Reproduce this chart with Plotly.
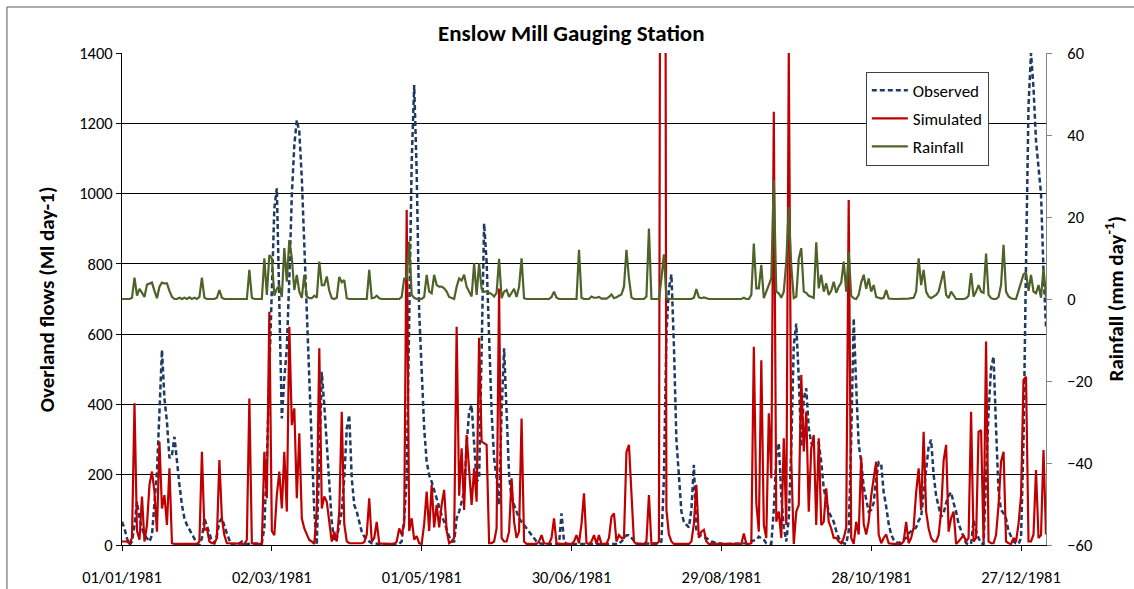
import pandas as pd
import plotly.graph_objects as go

# Daily series, 01/01/1981 onwards (one value per day)
observed = [
    66, 47, 19, 0, 10, 57, 123, 76, 47, 28,
    19, 10, 28, 114, 209, 379, 555, 417, 351, 247,
    256, 308, 228, 171, 114, 76, 57, 43, 33, 19,
    5, 0, 19, 76, 57, 33, 10, 5, 28, 66,
    76, 52, 33, 14, 0, 3, 3, 5, 10, 5,
    3, 3, 3, 3, 3, 3, 5, 50, 237, 493,
    759, 958, 1015, 664, 360, 474, 560, 759, 996, 1138,
    1209, 1176, 1043, 854, 664, 474, 285, 95, 0, 237,
    493, 398, 285, 171, 66, 10, 19, 57, 95, 190,
    332, 370, 190, 114, 95, 66, 38, 24, 19, 10,
    5, 5, 3, 3, 3, 3, 3, 3, 3, 3,
    3, 3, 10, 76, 190, 664, 1091, 1309, 1062, 664,
    493, 332, 237, 199, 180, 157, 133, 104, 85, 66,
    43, 24, 10, 10, 76, 95, 123, 152, 285, 379,
    398, 285, 180, 190, 569, 915, 806, 569, 379, 247,
    190, 114, 379, 560, 379, 199, 133, 114, 95, 76,
    66, 57, 47, 38, 28, 19, 10, 5, 3, 3,
    3, 3, 3, 3, 3, 3, 90, 10, 3, 3,
    3, 3, 3, 3, 3, 3, 3, 3, 3, 3,
    3, 3, 3, 3, 3, 3, 3, 3, 3, 3,
    10, 20, 28, 28, 20, 10, 5, 3, 3, 3,
    3, 3, 3, 3, 3, 5, 10, 190, 600, 730,
    770, 569, 300, 180, 95, 66, 57, 50, 100, 228,
    40, 30, 25, 20, 20, 15, 10, 8, 5, 5,
    3, 3, 3, 3, 3, 3, 3, 3, 3, 3,
    5, 8, 10, 12, 15, 24, 20, 15, 5, 3,
    3, 100, 250, 290, 140, 50, 10, 76, 280, 569,
    630, 474, 280, 417, 446, 332, 290, 285, 290, 290,
    237, 161, 128, 95, 80, 66, 40, 20, 10, 5,
    3, 40, 300, 645, 450, 285, 237, 165, 130, 95,
    100, 120, 190, 235, 230, 150, 110, 60, 30, 15,
    8, 5, 10, 15, 20, 33, 40, 45, 50, 70,
    80, 150, 220, 280, 300, 200, 140, 110, 80, 90,
    120, 140, 150, 120, 95, 60, 40, 20, 5, 3,
    3, 70, 40, 20, 5, 3, 190, 379, 503, 536,
    332, 150, 100, 90, 75, 40, 25, 10, 5, 3,
    20, 300, 800, 1250, 1400, 1300, 1150, 1062, 1000, 780,
    620,
]

simulated = [
    10, 10, 10, 5, 20, 403, 40, 15, 138, 10,
    57, 171, 209, 152, 38, 294, 104, 142, 57, 218,
    5, 3, 3, 3, 3, 3, 3, 3, 3, 3,
    3, 10, 265, 43, 47, 10, 5, 5, 20, 242,
    76, 28, 5, 5, 5, 3, 3, 3, 3, 3,
    15, 417, 5, 3, 3, 3, 3, 265, 133, 664,
    40, 28, 142, 209, 104, 265, 95, 621, 341, 389,
    133, 318, 76, 47, 28, 14, 10, 3, 100, 560,
    104, 138, 123, 57, 10, 38, 10, 95, 379, 60,
    10, 5, 5, 5, 5, 5, 5, 8, 30, 133,
    10, 20, 66, 5, 3, 3, 3, 3, 3, 3,
    10, 47, 30, 60, 953, 40, 76, 15, 25, 5,
    3, 60, 152, 40, 171, 50, 114, 50, 114, 157,
    40, 5, 10, 20, 621, 140, 275, 100, 313, 200,
    114, 218, 123, 590, 294, 290, 285, 5, 5, 10,
    47, 730, 20, 10, 10, 38, 190, 66, 20, 38,
    360, 10, 3, 3, 3, 3, 3, 10, 28, 5,
    3, 3, 20, 76, 5, 3, 3, 3, 3, 3,
    3, 10, 28, 5, 60, 147, 5, 3, 10, 28,
    3, 28, 3, 3, 3, 20, 80, 90, 10, 28,
    20, 20, 265, 285, 130, 10, 3, 3, 3, 3,
    10, 142, 3, 3, 3, 10, 3500, 4200, 100, 30,
    10, 3, 3, 3, 3, 3, 5, 3, 10, 60,
    171, 20, 38, 43, 10, 3, 3, 3, 3, 3,
    3, 3, 3, 3, 3, 3, 3, 3, 3, 33,
    3, 3, 5, 564, 120, 38, 526, 57, 20, 375,
    190, 1233, 66, 95, 20, 304, 57, 1400, 240, 3,
    95, 114, 484, 266, 380, 95, 275, 313, 57, 304,
    57, 66, 161, 66, 47, 20, 20, 10, 5, 20,
    50, 982, 20, 3, 66, 30, 251, 60, 30, 66,
    140, 190, 237, 30, 5, 20, 30, 5, 3, 3,
    3, 3, 3, 10, 66, 5, 20, 50, 150, 218,
    100, 322, 95, 47, 20, 10, 10, 28, 95, 240,
    285, 38, 76, 95, 3, 10, 20, 28, 10, 20,
    379, 10, 20, 322, 327, 10, 579, 10, 5, 5,
    28, 114, 237, 265, 10, 5, 3, 20, 10, 60,
    140, 470, 479, 10, 10, 30, 213, 20, 28, 270,
    30,
]

rainfall = [
    0, 0, 0, 0, 0.3, 5.2, 0.8, 2.5, 1.5, 0.5,
    3.5, 3.8, 4.0, 2.0, 0.2, 3.0, 4.0, 3.8, 3.8, 2.0,
    0.5, 0, 0, 0.3, 0, 0.3, 0, 0.4, 0, 0.3,
    0, 0.5, 5.2, 0.3, 0, 0, 0, 0, 0.3, 2.2,
    0.3, 0, 0, 0, 0, 0, 0, 0, 0, 0,
    0, 7.1, 0.3, 0, 0, 0, 0, 9.9, 1.0, 10.7,
    9.9, 0.8, 2.5, 3.3, 0.5, 12.4, 4.2, 14.4, 10.0, 2.2,
    5.9, 1.8, 0.3, 5.9, 0.6, 0.2, 0.2, 0.8, 0.3, 9.1,
    3.4, 3.4, 5.5, 2.0, 0.2, 0, 0.3, 5.4, 4.1, 4.6,
    0.2, 0, 0, 0, 0, 0, 0, 0, 0, 7.1,
    0.2, 0.3, 0.8, 0.2, 0, 0, 0, 0, 0, 0,
    0, 0, 0.5, 5.0, 5.0, 14.0, 1.0, 0.3, 0, 0,
    0, 0.5, 5.9, 1.8, 1.4, 5.9, 3.4, 3.0, 3.0, 2.6,
    1.8, 0.5, 0.2, 0, 3.0, 5.0, 4.5, 5.9, 3.0, 1.8,
    0.6, 8.7, 1.0, 8.7, 2.5, 1.8, 1.8, 1.5, 1.2, 0.6,
    1.5, 9.8, 0.2, 1.8, 2.2, 0.5, 1.5, 2.5, 0.5, 3.0,
    9.9, 0.2, 0, 0, 0, 0, 0, 0, 0, 0,
    0, 0, 0.5, 1.8, 0.3, 0, 0, 0, 0, 0,
    0, 0, 0, 12.0, 0.3, 0, 0, 0, 0.6, 0.3,
    0.3, 0.5, 0.1, 0.1, 0.1, 0.5, 1.1, 0.2, 0.4, 0.8,
    1.1, 3.0, 12.0, 5.0, 0.4, 0, 0, 0, 0, 0,
    0.6, 17.2, 0, 0, 0, 0, 5.0, 10.9, 0.3, 0,
    0, 0, 0, 0, 0, 0, 0, 0, 0, 0.3,
    2.4, 0.4, 0.2, 0.4, 0.2, 0, 0, 0, 0, 0,
    0, 0, 0, 0, 0, 0, 0, 0, 0, 0.3,
    0, 0, 1.0, 13.5, 2.6, 2.6, 8.3, 0.2, 1.8, 3.8,
    5.0, 29.0, 1.8, 1.4, 0.3, 1.8, 9.1, 22.5, 8.0, 0.2,
    0.6, 9.9, 12.4, 1.8, 1.5, 0.8, 0.5, 0.3, 13.8, 2.6,
    5.9, 1.8, 3.8, 1.0, 2.0, 4.2, 1.5, 3.0, 4.0, 9.1,
    1.8, 11.5, 0.8, 0.2, 0, 1.0, 4.0, 5.9, 2.5, 5.0,
    1.8, 3.4, 0.5, 0.2, 0.1, 0.3, 2.2, 0.1, 0, 0,
    0, 0, 0, 0, 0, 0.1, 0.2, 0.3, 1.8, 9.9,
    3.4, 7.1, 1.8, 0.6, 0.2, 0.5, 1.0, 1.8, 4.0, 6.8,
    1.0, 0.2, 1.8, 1.0, 0, 0, 0, 0, 0.2, 0.8,
    6.3, 0.6, 1.8, 3.4, 1.8, 1.5, 11.1, 1.0, 0.2, 0,
    0, 0.5, 3.4, 13.2, 1.8, 0.6, 0.2, 0, 0, 2.2,
    4.0, 6.0, 6.5, 2.0, 5.9, 1.8, 1.4, 3.4, 0.3, 7.5,
    0.5,
]

dates = pd.date_range("1981-01-01", periods=len(observed), freq="D")

FONT = "Carlito, Lato, Calibri, sans-serif"

fig = go.Figure()
fig.add_trace(go.Scatter(
    x=dates, y=observed, name="Observed", mode="lines", legendgroup="a",
    line=dict(color="#1F3A63", width=2.5, dash="5px,3px"),
))
fig.add_trace(go.Scatter(
    x=dates, y=simulated, name="Simulated", mode="lines", legendgroup="b",
    line=dict(color="#C00000", width=2.2),
))
fig.add_trace(go.Scatter(
    x=dates, y=rainfall, name="Rainfall", mode="lines", legendgroup="c",
    line=dict(color="#4F6228", width=2.2), yaxis="y2",
))

fig.update_layout(
    width=1134, height=589,
    margin=dict(l=122, r=88, t=53, b=44, autoexpand=False),
    paper_bgcolor="white", plot_bgcolor="white",
    font=dict(family=FONT, size=16.5, color="#000000"),
    showlegend=True,
    legend=dict(
        x=0.805, y=0.962, xanchor="left", yanchor="top",
        bgcolor="white", bordercolor="#404040", borderwidth=1,
        font=dict(size=17), traceorder="grouped", tracegroupgap=3,
        itemwidth=36,
    ),
    xaxis=dict(
        type="date", range=[dates[0], dates[-1]],
        tick0="1981-01-01", dtick=60 * 86400000, tickformat="%d/%m/%Y",
        showgrid=False, zeroline=False,
        showline=True, linecolor="#000000", linewidth=1,
        ticks="outside", ticklen=5, tickcolor="#000000",
        ticklabelstandoff=12, automargin=False,
    ),
    yaxis=dict(
        range=[0, 1400], dtick=200,
        showgrid=True, gridcolor="#000000", gridwidth=1, zeroline=False,
        showline=True, linecolor="#000000", linewidth=1,
        ticks="outside", ticklen=5, tickcolor="#000000",
        automargin=False,
    ),
    yaxis2=dict(
        range=[-60, 60], dtick=20, overlaying="y", side="right",
        showgrid=False, zeroline=False,
        showline=True, linecolor="#868686", linewidth=1,
        ticks="outside", ticklen=5, tickcolor="#868686",
        ticklabelstandoff=12, automargin=False,
    ),
    annotations=[
        dict(text="<b>Enslow Mill Gauging Station</b>", xref="paper", yref="paper",
             x=0.487, y=1.04, xanchor="center", yanchor="middle",
             showarrow=False, font=dict(size=23)),
        dict(text="<b>Overland flows (Ml day-1)</b>", xref="paper", yref="paper",
             x=-0.081, y=0.5, xanchor="center", yanchor="middle", textangle=-90,
             showarrow=False, font=dict(size=21)),
        dict(text="<b>Rainfall (mm day<sup>-1</sup>)</b>", xref="paper", yref="paper",
             x=1.074, y=0.5, xanchor="center", yanchor="middle", textangle=-90,
             showarrow=False, font=dict(size=21)),
    ],
    shapes=[
        dict(type="rect", xref="paper", yref="paper",
             x0=-0.1245, x1=1.2, y0=-0.2, y1=1.0935,
             line=dict(color="#595959", width=1), fillcolor="rgba(0,0,0,0)",
             layer="below"),
    ],
)

fig.write_html("out.html")
